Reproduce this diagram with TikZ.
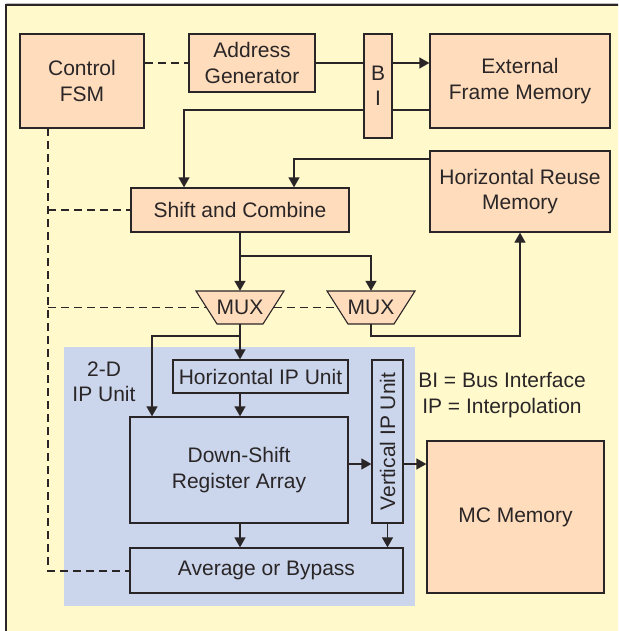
\documentclass[tikz,border=0pt]{standalone}
\usepackage{fontspec}
\setmainfont{Liberation Sans}
\usetikzlibrary{arrows.meta,calc}

\definecolor{pagebg}{HTML}{FFF9CC}
\definecolor{peach}{HTML}{FFDCBB}
\definecolor{ipblue}{HTML}{CBD6EC}
\definecolor{ink}{HTML}{2A2627}

\tikzset{
  unit/.style={draw=ink, line width=1.3pt, fill=peach, inner sep=0pt,
    align=center, text=ink},
  ipbox/.style={unit, fill=ipblue},
  wire/.style={draw=ink, line width=1.3pt},
  flow/.style={wire, -{Triangle[length=10pt,width=11pt]}},
  ctrl/.style={draw=ink, line width=1.3pt, dash pattern=on 8pt off 5pt},
  txt/.style={text=ink, align=center, inner sep=0pt},
}

\begin{document}
\begin{tikzpicture}[x=1pt, y=-1pt,
  every node/.append style={font=\fontsize{21}{25.5}\selectfont}]
\useasboundingbox (0,0) rectangle (618,631);
\clip (0,0) rectangle (618,631);

% outer panel
\fill[white] (0,0) rectangle (618,631);
\draw[gray!50, line width=1pt] (6,3.8) -- (630,3.8);
\draw[ink, line width=1.6pt, fill=pagebg] (6,5) rectangle (640,650);

% 2-D interpolation region
\fill[ipblue] (64,347) rectangle (415,606);

% blocks
\node[unit, minimum width=124pt, minimum height=94pt] (fsm) at (82,81) {Control\\FSM};
\node[unit, minimum width=126pt, minimum height=58pt] (ag) at (252,63) {Address\\Generator};
\node[unit, minimum width=28pt, minimum height=104pt] (bi) at (378,86) {B\\I};
\node[unit, minimum width=180pt, minimum height=94pt] (efm) at (520,81) {External\\Frame Memory};
\node[unit, minimum width=180pt, minimum height=81pt] (hrm) at (520,191.5) {Horizontal Reuse\\Memory};
\node[unit, minimum width=218pt, minimum height=44pt] (sc) at (240,210) {Shift and Combine};

% multiplexers
\fill[peach] (196,291) -- (284,291) -- (263,324) -- (217,324) -- cycle;
\draw[ink, line width=1.1pt] (196,291) -- (284,291) -- (263,324) -- (217,324) -- cycle;
\node[txt, minimum width=67pt, minimum height=33pt] (mux1) at (240,307.5) {MUX};
\fill[peach] (327,291) -- (415,291) -- (394,324) -- (348,324) -- cycle;
\draw[ink, line width=1.1pt] (327,291) -- (415,291) -- (394,324) -- (348,324) -- cycle;
\node[txt, minimum width=67pt, minimum height=33pt] (mux2) at (371,307.5) {MUX};

\node[ipbox, minimum width=175pt, minimum height=33pt] (hip) at (260.5,376.5) {Horizontal IP Unit};
\node[ipbox, minimum width=218pt, minimum height=106pt] (dsr) at (239,470) {Down-Shift\\Register Array};
\node[ipbox, minimum width=31pt, minimum height=163pt] (vip) at (387.5,441.5) {};
\node[txt, rotate=90] (viplabel) at (vip.center) {Vertical IP Unit};
\node[ipbox, minimum width=273pt, minimum height=45pt] (avg) at (266.5,570.5) {Average or Bypass};
\node[unit, minimum width=177pt, minimum height=152pt] (mcm) at (515.5,517) {MC Memory};

% labels
\node[txt] (iplabel) at (104,382) {2-D\\IP Unit};
\node[txt] (legend) at (502,395) {BI = Bus Interface\\IP = Interpolation};

% bend points
\coordinate (rdin) at (430,110);
\coordinate (rdx) at (184,110);
\coordinate (hrmout) at (430,159);
\coordinate (hrmx) at (294,159);
\coordinate (split1) at (240,256);
\coordinate (split1r) at (371,256);
\coordinate (mux2d) at (371,336);
\coordinate (mux2r) at (520,336);
\coordinate (split2) at (240,336);
\coordinate (split2l) at (152,336);
\coordinate (hv) at (348,464);
\coordinate (ctl) at (48,128);
\coordinate (ctlend) at (48,571);

% address path through the bus interface
\draw[wire] (ag.east) -- (ag.east -| bi.west);
\draw[flow] (ag.east -| bi.east) -- (ag.east -| efm.west);
% read-back from frame memory
\draw[wire] (rdin) -- (rdin -| bi.east);
\draw[flow] (rdin -| bi.west) -- (rdx) -- (rdx |- sc.north);
% reuse memory feedback
\draw[flow] (hrmout) -- (hrmx) -- (hrmx |- sc.north);
% shift and combine to both multiplexers
\draw[flow] (sc.south) -- (mux1.north);
\draw[flow] (split1) -- (split1r) -- (mux2.north);
% second multiplexer back to reuse memory
\draw[flow] (mux2.south) -- (mux2d) -- (mux2r) -- (hrm.south);
% first multiplexer into the 2-D unit
\draw[flow] (mux1.south) -- (mux1.south |- hip.north);
\draw[flow] (split2) -- (split2l) -- (split2l |- dsr.north);
\draw[flow] (hip.south -| mux1.south) -- (mux1.south |- dsr.north);
\draw[flow] (hv) -- (hv -| vip.west);
\draw[flow] (hv -| vip.east) -- (hv -| mcm.west);
\draw[flow] (dsr.south -| mux1.south) -- (avg.north -| mux1.south);
\draw[flow] (vip.south) -- (vip.south |- avg.north);

% control signals
\draw[ctrl] (ag.west -| fsm.east) -- (ag.west);
\draw[ctrl] (ctl) -- (ctlend) -- (ctlend -| avg.west);
\draw[ctrl] (ctl |- sc.west) -- (sc.west);
\draw[ctrl] (ctl |- mux1.west) -- (mux1.west);
\draw[ctrl] (mux1.east) -- (mux2.west);
\end{tikzpicture}
\end{document}
